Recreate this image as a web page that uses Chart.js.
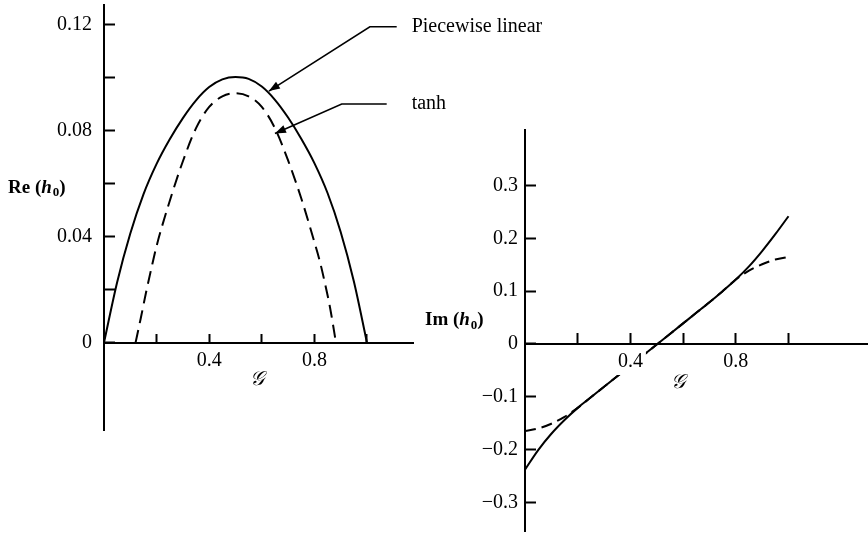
<!DOCTYPE html>
<html>
<head>
<meta charset="utf-8">
<script src="https://cdn.jsdelivr.net/npm/chart.js@4.4.0/dist/chart.umd.min.js"></script>
<style>
  html, body { margin: 0; padding: 0; background: #fff; }
  #wrap { position: relative; width: 868px; height: 533px; overflow: hidden; }
  canvas { position: absolute; top: 0; }
  #reChart { left: 0; }
  #imChart { left: 400px; }
</style>
</head>
<body>
<div id="wrap">
  <canvas id="reChart" width="560" height="533"></canvas>
  <canvas id="imChart" width="468" height="533"></canvas>
</div>
<script>
// Re(h0) against G, piecewise linear profile
const reG_pl = [0, 0.05, 0.10, 0.15, 0.20, 0.25, 0.30, 0.35, 0.40, 0.45, 0.50,
                0.55, 0.60, 0.65, 0.70, 0.75, 0.80, 0.85, 0.90, 0.95, 1.00];
const reH_pl = [0, 0.0228, 0.0412, 0.056, 0.0675, 0.0768, 0.0848, 0.0915, 0.0965, 0.0994, 0.1003,
                0.0996, 0.0967, 0.0917, 0.085, 0.077, 0.0678, 0.0565, 0.0418, 0.0232, 0];

// Re(h0) against G, tanh profile
const reG_tanh = [0.12, 0.14, 0.16, 0.18, 0.20, 0.25, 0.30, 0.35, 0.40, 0.45, 0.50,
                  0.55, 0.60, 0.65, 0.70, 0.75, 0.80, 0.82, 0.84, 0.86, 0.882];
const reH_tanh = [0, 0.0093, 0.019, 0.028, 0.0365, 0.0535, 0.0685, 0.081, 0.089, 0.093, 0.0942,
                  0.093, 0.089, 0.081, 0.0688, 0.0545, 0.038, 0.031, 0.0225, 0.013, 0];

// Im(h0) against G
const imG = [0, 0.05, 0.10, 0.15, 0.20, 0.25, 0.30, 0.35, 0.40, 0.45, 0.50,
             0.55, 0.60, 0.65, 0.70, 0.75, 0.80, 0.85, 0.90, 0.95, 1.00];
const imH_pl = [-0.238, -0.201, -0.170, -0.144, -0.121, -0.101, -0.081, -0.061, -0.041, -0.021, -0.001,
                0.019, 0.039, 0.059, 0.079, 0.100, 0.122, 0.147, 0.176, 0.208, 0.242];
const imH_tanh = [-0.165, -0.160, -0.151, -0.138, -0.121, -0.101, -0.081, -0.061, -0.041, -0.021, -0.001,
                  0.019, 0.039, 0.059, 0.079, 0.100, 0.122, 0.139, 0.151, 0.160, 0.165];

// tick values and their labels
const gTicks = [0.2, 0.4, 0.6, 0.8, 1.0];
const gLabels = ['', '0.4', '', '0.8', ''];
const reTicks = [0, 0.02, 0.04, 0.06, 0.08, 0.10, 0.12];
const reLabels = ['0', '', '0.04', '', '0.08', '', '0.12'];
const imTicks = [-0.3, -0.2, -0.1, 0, 0.1, 0.2, 0.3];
const imLabels = ['\u22120.3', '\u22120.2', '\u22120.1', '0', '0.1', '0.2', '0.3'];

const SERIF = '"Liberation Serif", "Times New Roman", serif';
const tickFont = { family: SERIF, size: 20 };

function toPoints(xs, ys) {
  return xs.map((v, i) => ({ x: v, y: ys[i] }));
}

function lineSet(xs, ys, dash) {
  return {
    data: toPoints(xs, ys),
    borderColor: '#000',
    borderWidth: 2,
    borderDash: dash || [],
    pointRadius: 0,
    fill: false,
    cubicInterpolationMode: 'monotone'
  };
}

function noPadding(s) {
  s.paddingLeft = 0; s.paddingRight = 0; s.paddingTop = 0; s.paddingBottom = 0;
}

function gAxis(max, tickLen, pad, labelsOnTop) {
  return {
    type: 'linear', min: 0, max: max, position: { y: 0 },
    afterFit: noPadding,
    afterBuildTicks: s => { s.ticks = gTicks.map(v => ({ value: v })); },
    ticks: {
      autoSkip: false, maxRotation: 0, padding: pad, color: '#000', font: tickFont,
      callback: (v, i) => gLabels[i],
      z: labelsOnTop ? 1 : 0,
      showLabelBackdrop: !!labelsOnTop, backdropColor: '#fff',
      backdropPadding: { x: 3, y: 1 }
    },
    grid: { drawOnChartArea: false, tickLength: -tickLen, tickWidth: 2, tickColor: '#000', color: '#000' },
    border: { color: '#000', width: 2 }
  };
}

function valueAxis(min, max, width, ticks, labels, pad) {
  return {
    type: 'linear', min: min, max: max, position: 'left',
    afterFit: s => { s.width = width; noPadding(s); },
    afterBuildTicks: s => { s.ticks = ticks.map(v => ({ value: v })); },
    ticks: { autoSkip: false, padding: pad, color: '#000', font: tickFont, callback: (v, i) => labels[i] },
    grid: { drawOnChartArea: false, tickLength: -11, tickWidth: 2, tickColor: '#000', color: '#000' },
    border: { color: '#000', width: 2 }
  };
}

// y-axis title drawn level, with the subscript on h
function drawAxisName(ctx, prefix, x, y) {
  const parts = [
    { t: prefix + ' (', f: 'bold 19px ' + SERIF, dy: 0 },
    { t: 'h', f: 'bold italic 19px ' + SERIF, dy: 0 },
    { t: '0', f: 'bold 13px ' + SERIF, dy: 5 },
    { t: ')', f: 'bold 19px ' + SERIF, dy: 0 }
  ];
  ctx.textBaseline = 'middle';
  ctx.textAlign = 'left';
  parts.forEach(p => {
    ctx.font = p.f;
    ctx.fillText(p.t, x, y + p.dy);
    x += ctx.measureText(p.t).width + (p.t === 'h' ? 1 : 0);
  });
}

function drawScriptG(ctx, px, py) {
  ctx.font = 'italic 20px "DejaVu Serif", ' + SERIF;
  ctx.textAlign = 'center';
  ctx.textBaseline = 'middle';
  ctx.fillText('\u{1D4A2}', px, py);
}

// callouts for the two curves of the left panel (data units)
const callouts = [
  { text: 'Piecewise linear', tip: [0.627, 0.0950], elbow: [1.011, 0.1193], end: 1.113, textX: 1.170 },
  { text: 'tanh', tip: [0.650, 0.0790], elbow: [0.904, 0.0901], end: 1.075, textX: 1.170 }
];

const reNotes = {
  id: 'reNotes',
  afterDraw(chart) {
    const { ctx, scales: { x, y } } = chart;
    ctx.save();
    ctx.fillStyle = '#000';
    ctx.strokeStyle = '#000';
    drawAxisName(ctx, 'Re', 8, y.getPixelForValue(0.0585));
    drawScriptG(ctx, x.getPixelForValue(0.58), y.getPixelForValue(0) + 37);

    callouts.forEach(c => {
      const tx = x.getPixelForValue(c.tip[0]), ty = y.getPixelForValue(c.tip[1]);
      const ex = x.getPixelForValue(c.elbow[0]), ey = y.getPixelForValue(c.elbow[1]);
      const hx = x.getPixelForValue(c.end);
      ctx.lineWidth = 1.6;
      ctx.beginPath();
      ctx.moveTo(hx, ey);
      ctx.lineTo(ex, ey);
      ctx.lineTo(tx, ty);
      ctx.stroke();
      // arrow head
      const a = Math.atan2(ty - ey, tx - ex);
      const len = 11, half = 4;
      ctx.beginPath();
      ctx.moveTo(tx, ty);
      ctx.lineTo(tx - len * Math.cos(a) + half * Math.sin(a), ty - len * Math.sin(a) - half * Math.cos(a));
      ctx.lineTo(tx - len * Math.cos(a) - half * Math.sin(a), ty - len * Math.sin(a) + half * Math.cos(a));
      ctx.closePath();
      ctx.fill();
      ctx.font = '20px ' + SERIF;
      ctx.textAlign = 'left';
      ctx.textBaseline = 'middle';
      ctx.fillText(c.text, x.getPixelForValue(c.textX), ey);
    });
    ctx.restore();
  }
};

const imNotes = {
  id: 'imNotes',
  afterDraw(chart) {
    const { ctx, scales: { x, y } } = chart;
    ctx.save();
    ctx.fillStyle = '#000';
    drawAxisName(ctx, 'Im', 25, y.getPixelForValue(0.045));
    drawScriptG(ctx, x.getPixelForValue(0.58), y.getPixelForValue(0) + 39);
    ctx.restore();
  }
};

const baseOptions = {
  responsive: false,
  animation: false,
  devicePixelRatio: 1,
  plugins: { legend: { display: false }, tooltip: { enabled: false } }
};

new Chart(document.getElementById('reChart'), {
  type: 'line',
  data: {
    datasets: [
      lineSet(reG_pl, reH_pl),
      lineSet(reG_tanh, reH_tanh, [13, 7])
    ]
  },
  options: Object.assign({}, baseOptions, {
    layout: { padding: { left: 0, top: 5, right: 147, bottom: 103 } },
    scales: {
      x: gAxis(1.175, 10, 16, false),
      y: valueAxis(-0.033, 0.1275, 104, reTicks, reLabels, 23)
    }
  }),
  plugins: [reNotes]
});

new Chart(document.getElementById('imChart'), {
  type: 'line',
  data: {
    datasets: [
      lineSet(imG, imH_pl),
      lineSet(imG, imH_tanh, [11, 6])
    ]
  },
  options: Object.assign({}, baseOptions, {
    layout: { padding: { left: 0, top: 130, right: 0, bottom: 2 } },
    scales: {
      x: gAxis(1.3017, 12, 18, true),
      y: valueAxis(-0.3542, 0.4053, 125, imTicks, imLabels, 18)
    }
  }),
  plugins: [imNotes]
});
</script>
</body>
</html>
